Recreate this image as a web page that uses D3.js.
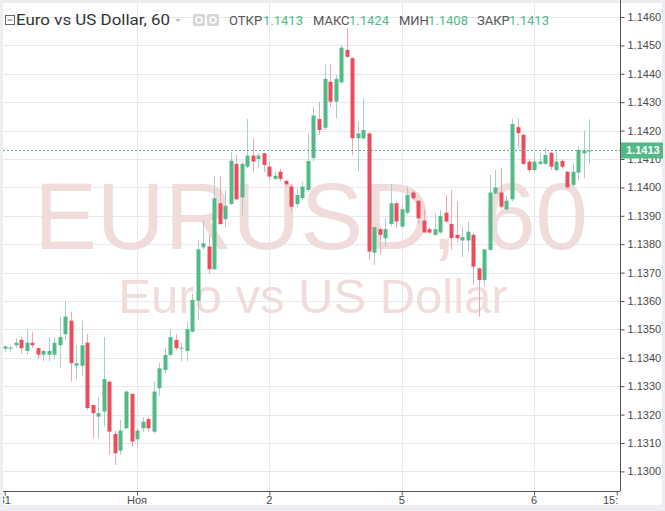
<!DOCTYPE html>
<html><head><meta charset="utf-8">
<script src="https://cdn.jsdelivr.net/npm/d3@7/dist/d3.min.js"></script>
<style>html,body{margin:0;padding:0;background:#eceef1;}svg{display:block;}</style>
</head><body>
<svg id="c" width="665" height="511"></svg>
<script>
// ---- data (hourly EURUSD candles, Oct 31 00:00 .. Nov 6 10:00, weekend skipped) ----
const opens = [1.13432,1.13432,1.13444,1.13463,1.13424,1.13453,1.13434,1.13411,1.13411,1.13411,
1.13444,1.13483,1.13531,1.13372,1.13372,1.13453,1.13234,1.13193,1.13211,1.13316,
1.13132,1.13073,1.13152,1.13273,1.13113,1.13152,1.13184,1.13140,1.13293,1.13357,
1.13410,1.13463,1.13434,1.13424,1.13492,1.13601,1.13789,1.13792,1.13712,1.13944,
1.13888,1.13942,1.14083,1.13965,1.14073,1.14112,1.14100,1.14120,1.14073,1.14030,
1.14055,1.14023,1.14003,1.13941,1.13962,1.13991,1.14103,1.14241,1.14210,1.14372,
1.14302,1.14370,1.14484,1.14455,1.14173,1.14173,1.14190,1.13770,1.13853,1.13821,
1.13871,1.13944,1.13862,1.13911,1.13982,1.13953,1.13883,1.13853,1.13833,1.13841,
1.13911,1.13871,1.13833,1.13813,1.13813,1.13833,1.13715,1.13674,1.13780,1.13979,
1.13982,1.13923,1.13958,1.14212,1.14185,1.14091,1.14061,1.14083,1.14083,1.14122,
1.14061,1.14093,1.14055,1.14009,1.14052,1.14120,1.14130];
const highs = [1.13445,1.13440,1.13469,1.13473,1.13500,1.13492,1.13436,1.13428,1.13473,1.13473,
1.13545,1.13601,1.13563,1.13445,1.13531,1.13483,1.13234,1.13261,1.13473,1.13320,
1.13144,1.13181,1.13285,1.13275,1.13152,1.13191,1.13191,1.13316,1.13381,1.13434,
1.13501,1.13484,1.13452,1.13527,1.13625,1.13815,1.13885,1.13833,1.14040,1.14040,
1.13991,1.14126,1.14114,1.14090,1.14241,1.14173,1.14120,1.14122,1.14091,1.14055,
1.14065,1.14025,1.14011,1.13997,1.14020,1.14191,1.14284,1.14302,1.14433,1.14433,
1.14396,1.14499,1.14560,1.14458,1.14231,1.14314,1.14195,1.13860,1.13860,1.13891,
1.14012,1.13950,1.13938,1.14003,1.13990,1.13955,1.13923,1.13860,1.13909,1.13920,
1.13973,1.13991,1.13950,1.13862,1.13880,1.13840,1.13718,1.13782,1.14044,1.14061,
1.14068,1.13970,1.14240,1.14243,1.14190,1.14100,1.14120,1.14120,1.14141,1.14126,
1.14131,1.14100,1.14058,1.14085,1.14146,1.14200,1.14240];
const lows = [1.13420,1.13420,1.13434,1.13414,1.13410,1.13434,1.13395,1.13387,1.13387,1.13395,
1.13365,1.13463,1.13316,1.13325,1.13336,1.13217,1.13117,1.13117,1.13158,1.13058,
1.13023,1.13058,1.13150,1.13087,1.13087,1.13140,1.13140,1.13134,1.13264,1.13346,
1.13404,1.13427,1.13387,1.13387,1.13488,1.13533,1.13780,1.13695,1.13709,1.13868,
1.13856,1.13938,1.13956,1.13903,1.14068,1.14055,1.14067,1.14055,1.14026,1.14026,
1.14020,1.14003,1.13915,1.13932,1.13956,1.13985,1.14091,1.14185,1.14202,1.14284,
1.14243,1.14365,1.14454,1.14114,1.14055,1.14167,1.13745,1.13727,1.13762,1.13791,
1.13862,1.13856,1.13856,1.13905,1.13955,1.13874,1.13841,1.13835,1.13830,1.13838,
1.13874,1.13780,1.13809,1.13754,1.13774,1.13657,1.13545,1.13651,1.13775,1.13975,
1.13925,1.13915,1.13950,1.14139,1.14080,1.14055,1.14058,1.14080,1.14080,1.14061,
1.14055,1.14065,1.13995,1.14000,1.14026,1.14032,1.14080];
const closes = [1.13440,1.13436,1.13453,1.13434,1.13453,1.13444,1.13411,1.13424,1.13424,1.13453,
1.13473,1.13545,1.13381,1.13381,1.13444,1.13223,1.13205,1.13205,1.13325,1.13140,
1.13064,1.13144,1.13281,1.13105,1.13144,1.13175,1.13152,1.13281,1.13363,1.13410,
1.13473,1.13434,1.13436,1.13501,1.13604,1.13782,1.13803,1.13712,1.13962,1.13871,
1.13935,1.14094,1.13958,1.14083,1.14112,1.14091,1.14112,1.14079,1.14038,1.14041,
1.14030,1.14011,1.13932,1.13973,1.14003,1.14093,1.14253,1.14202,1.14382,1.14302,
1.14382,1.14492,1.14460,1.14173,1.14190,1.14202,1.13774,1.13860,1.13833,1.13853,
1.13944,1.13880,1.13923,1.13973,1.13962,1.13891,1.13841,1.13841,1.13853,1.13899,
1.13880,1.13821,1.13821,1.13825,1.13844,1.13721,1.13674,1.13782,1.13982,1.14000,
1.13932,1.13953,1.14223,1.14191,1.14083,1.14061,1.14091,1.14091,1.14114,1.14073,
1.14091,1.14073,1.14000,1.14055,1.14132,1.14130,1.14130];
const priceTicks = [1.1300,1.1310,1.1320,1.1330,1.1340,1.1350,1.1360,1.1370,1.1380,1.1390,1.1400,1.1410,1.1420,1.1430,1.1440,1.1450,1.1460];
const timeTickIndex = [0, 24, 48, 72, 96, 111];
const timeTickLabels = ["31", "Ноя", "2", "5", "6", "15:00"];
const lastPrice = 1.1413;
const headerTitle = "Euro vs US Dollar, 60";
const headerLabels = ["ОТКР", "МАКС", "МИН", "ЗАКР"];
const headerValues = ["1.1413", "1.1424", "1.1408", "1.1413"];

// ---- layout ----
const svg = d3.select("#c");
const L = 3, R = 620, T = 3, B = 491;
const x = d3.scaleLinear().domain([0, 111]).range([4.7, 4.7 + 111 * 5.514]);
const y = d3.scaleLinear().domain([1.1300, 1.1460]).range([471.4, 17]);
const UP = "#53b987", DN = "#eb4d5c", UPW = "#a9cfcc", DNW = "#f2a6ae";
const AF = "Liberation Sans, Arial, sans-serif";

svg.append("rect").attr("x", 3).attr("y", 3).attr("width", 659).attr("height", 502).attr("fill", "#fff");
const defs = svg.append("defs");
defs.append("clipPath").attr("id", "plot").append("rect").attr("x", L).attr("y", T).attr("width", R - L).attr("height", B - T);

const plot = svg.append("g").attr("clip-path", "url(#plot)");
// grid
plot.selectAll("line.h").data(priceTicks).join("line")
  .attr("x1", L).attr("x2", R).attr("y1", d => Math.round(y(d)) + 0.5).attr("y2", d => Math.round(y(d)) + 0.5)
  .attr("stroke", "#e6eaee").attr("stroke-width", 1);
plot.selectAll("line.v").data(timeTickIndex.slice(1, 5)).join("line")
  .attr("y1", T).attr("y2", B).attr("x1", d => Math.round(x(d)) + 0.5).attr("x2", d => Math.round(x(d)) + 0.5)
  .attr("stroke", "#e6eaee").attr("stroke-width", 1);

// watermark
plot.append("text").attr("x", (L + R) / 2 - 0.5).attr("y", 249).attr("text-anchor", "middle")
  .attr("font-family", AF).attr("font-size", 94).attr("fill", "#f1dcdc").text("EURUSD, 60");
plot.append("text").attr("x", (L + R) / 2 + 1.5).attr("y", 313).attr("text-anchor", "middle")
  .attr("font-family", AF).attr("font-size", 49).attr("fill", "#f1dcdc").text("Euro vs US Dollar");

// candles
const idx = d3.range(opens.length);
const up = i => closes[i] >= opens[i];
plot.selectAll("line.w").data(idx).join("line")
  .attr("x1", i => Math.round(x(i)) + 0.5).attr("x2", i => Math.round(x(i)) + 0.5)
  .attr("y1", i => y(highs[i])).attr("y2", i => y(lows[i]))
  .attr("stroke", i => up(i) ? UPW : DNW).attr("stroke-width", 1);
plot.selectAll("rect.b").data(idx).join("rect")
  .attr("x", i => Math.round(x(i)) - 1.5).attr("width", 4)
  .attr("y", i => y(Math.max(opens[i], closes[i])))
  .attr("height", i => Math.max(1, Math.abs(y(opens[i]) - y(closes[i]))))
  .attr("fill", i => up(i) ? UP : DN);

// last price line
plot.append("line").attr("x1", L).attr("x2", R).attr("y1", Math.round(y(lastPrice)) + 0.5).attr("y2", Math.round(y(lastPrice)) + 0.5)
  .attr("stroke", UP).attr("stroke-width", 1).attr("stroke-dasharray", "2,2");

// right axis
const yAxis = d3.axisRight(y).tickValues(priceTicks).tickFormat(d3.format(".4f")).tickSize(4).tickPadding(3);
const ga = svg.append("g").attr("transform", `translate(${R + 0.5},0)`).call(yAxis);
ga.select(".domain").attr("d", `M0,0V${B}`).attr("stroke", "#555");
ga.selectAll(".tick line").attr("stroke", "#555");
ga.selectAll(".tick text").attr("font-family", AF).attr("font-size", 11).attr("fill", "#4a4a4a");

// price label
const py = y(lastPrice);
svg.append("rect").attr("x", R + 1).attr("y", py - 8).attr("width", 42).attr("height", 16).attr("fill", UP);
svg.append("text").attr("x", R + 6).attr("y", py + 4).attr("font-family", AF)
  .attr("font-size", 11).attr("font-weight", "bold").attr("fill", "#fff").text(lastPrice.toFixed(4));

// bottom axis: line and ticks, labels clipped to the plot width
defs.append("clipPath").attr("id", "bt").append("rect").attr("x", L).attr("y", B).attr("width", R - L - 2).attr("height", 20);
const xAxis = d3.axisBottom(x).tickValues(timeTickIndex).tickFormat("").tickSize(4).tickPadding(2);
const gb = svg.append("g").attr("transform", `translate(0,${B + 0.5})`).call(xAxis);
gb.select(".domain").attr("d", `M${L},0H${R}`).attr("stroke", "#555");
gb.selectAll(".tick line").attr("stroke", "#555");
svg.append("g").attr("clip-path", "url(#bt)")
  .selectAll("text").data(timeTickIndex).join("text")
  .attr("x", d => x(d)).attr("y", B + 13).attr("text-anchor", "middle")
  .attr("font-family", AF).attr("font-size", 11).attr("fill", "#4a4a4a")
  .text((d, i) => timeTickLabels[i]);

// header
const hf = "Roboto, 'Open Sans', sans-serif";
const hg = svg.append("g");
hg.append("rect").attr("x", 5.5).attr("y", 15.5).attr("width", 9).attr("height", 9).attr("fill", "none").attr("stroke", "#666");
hg.append("line").attr("x1", 7.5).attr("x2", 12.5).attr("y1", 20).attr("y2", 20).attr("stroke", "#666");
hg.append("text").attr("x", 16).attr("y", 25).attr("font-family", hf).attr("font-size", 15).attr("font-weight", 400)
  .attr("fill", "#333").attr("textLength", 154).attr("lengthAdjust", "spacingAndGlyphs").text(headerTitle);
hg.append("path").attr("d", "M175,19 L181,19 L178,22 Z").attr("fill", "#bbb");
[193, 207].forEach(px => {
  hg.append("rect").attr("x", px).attr("y", 14).attr("width", 12).attr("height", 12).attr("rx", 2).attr("fill", "#d6d6d6");
  hg.append("circle").attr("cx", px + 6).attr("cy", 20).attr("r", 3).attr("fill", "none").attr("stroke", "#fff").attr("stroke-width", 1.5);
});
const lx = [229, 313, 399, 477], vx = [263, 349, 428, 509];
headerLabels.forEach((t, i) => {
  hg.append("text").attr("x", lx[i]).attr("y", 25).attr("font-family", hf).attr("font-size", 13).attr("fill", "#555").text(t);
  hg.append("text").attr("x", vx[i]).attr("y", 25).attr("font-family", hf).attr("font-size", 13).attr("fill", UP).text(headerValues[i]);
});
</script>
</body></html>
